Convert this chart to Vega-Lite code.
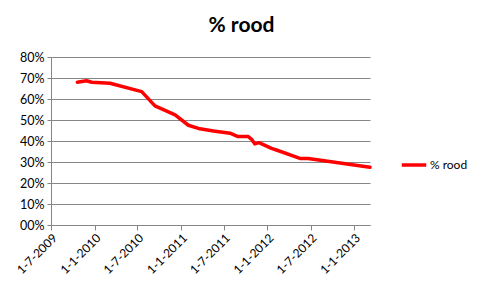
{
  "$schema": "https://vega.github.io/schema/vega-lite/v6.json",
  "width": 319,
  "height": 168,
  "autosize": "none",
  "padding": {"left": 51, "top": 57, "right": 113, "bottom": 66},
  "background": "white",
  "title": {
    "text": "% rood",
    "font": "Lato",
    "fontSize": 21,
    "fontWeight": "bold",
    "color": "black",
    "anchor": "middle",
    "dx": 31,
    "offset": 15
  },
  "data": {
    "values": [
      {"datum": "2009-10-20", "waarde": 0.680, "reeks": "% rood"},
      {"datum": "2009-11-28", "waarde": 0.687, "reeks": "% rood"},
      {"datum": "2009-12-20", "waarde": 0.680, "reeks": "% rood"},
      {"datum": "2010-03-07", "waarde": 0.675, "reeks": "% rood"},
      {"datum": "2010-07-19", "waarde": 0.635, "reeks": "% rood"},
      {"datum": "2010-09-13", "waarde": 0.567, "reeks": "% rood"},
      {"datum": "2010-12-07", "waarde": 0.524, "reeks": "% rood"},
      {"datum": "2011-02-01", "waarde": 0.475, "reeks": "% rood"},
      {"datum": "2011-03-15", "waarde": 0.460, "reeks": "% rood"},
      {"datum": "2011-05-18", "waarde": 0.448, "reeks": "% rood"},
      {"datum": "2011-07-27", "waarde": 0.437, "reeks": "% rood"},
      {"datum": "2011-08-27", "waarde": 0.422, "reeks": "% rood"},
      {"datum": "2011-10-12", "waarde": 0.421, "reeks": "% rood"},
      {"datum": "2011-10-26", "waarde": 0.408, "reeks": "% rood"},
      {"datum": "2011-11-09", "waarde": 0.386, "reeks": "% rood"},
      {"datum": "2011-11-26", "waarde": 0.392, "reeks": "% rood"},
      {"datum": "2012-01-18", "waarde": 0.365, "reeks": "% rood"},
      {"datum": "2012-02-08", "waarde": 0.357, "reeks": "% rood"},
      {"datum": "2012-05-17", "waarde": 0.317, "reeks": "% rood"},
      {"datum": "2012-06-21", "waarde": 0.317, "reeks": "% rood"},
      {"datum": "2013-03-09", "waarde": 0.275, "reeks": "% rood"}
    ]
  },
  "mark": {"type": "line", "strokeWidth": 3.5, "strokeJoin": "round", "strokeCap": "round"},
  "encoding": {
    "x": {
      "field": "datum",
      "type": "temporal",
      "scale": {"domain": ["2009-07-01", "2013-03-09"]},
      "axis": {
        "title": null,
        "values": ["2009-07-01", "2010-01-01", "2010-07-01", "2011-01-01", "2011-07-01", "2012-01-01", "2012-07-01", "2013-01-01"],
        "labelExpr": "timeFormat(datum.value, '%-d-%-m-%Y')",
        "labelAngle": -45,
        "labelAlign": "right",
        "labelBaseline": "top",
        "labelPadding": 2,
        "labelFont": "Lato",
        "labelFontSize": 12,
        "labelColor": "black",
        "grid": false,
        "domainColor": "#868686",
        "tickColor": "#868686",
        "tickSize": 5,
        "labelOverlap": false
      }
    },
    "y": {
      "field": "waarde",
      "type": "quantitative",
      "scale": {"domain": [0, 0.8], "nice": false},
      "axis": {
        "title": null,
        "values": [0, 0.1, 0.2, 0.3, 0.4, 0.5, 0.6, 0.7, 0.8],
        "labelExpr": "datum.value == 0 ? '00%' : format(datum.value, '.0%')",
        "labelFont": "Lato",
        "labelFontSize": 12.5,
        "labelColor": "black",
        "labelPadding": 3,
        "gridColor": "#868686",
        "gridWidth": 1,
        "domainColor": "#868686",
        "tickColor": "#868686",
        "tickSize": 4
      }
    },
    "color": {
      "field": "reeks",
      "type": "nominal",
      "scale": {"range": ["#FF0000"]},
      "legend": {
        "title": null,
        "orient": "none",
        "legendX": 349,
        "legendY": 94,
        "symbolType": "stroke",
        "symbolSize": 600,
        "symbolStrokeWidth": 3.5,
        "labelFont": "Lato",
        "labelFontSize": 12,
        "labelColor": "black",
        "labelOffset": 2
      }
    }
  },
  "config": {
    "view": {"stroke": null}
  }
}
